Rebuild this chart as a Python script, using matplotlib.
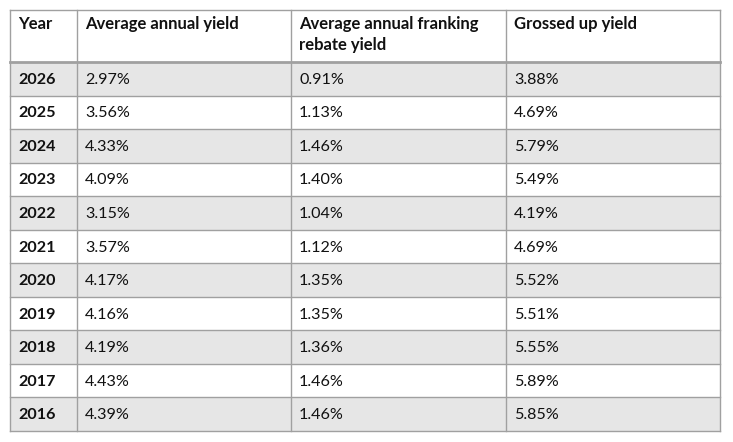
import matplotlib.pyplot as plt
from matplotlib.patches import Rectangle

years = ["2026", "2025", "2024", "2023", "2022", "2021", "2020", "2019", "2018", "2017", "2016"]
annual_yield = ["2.97%", "3.56%", "4.33%", "4.09%", "3.15%", "3.57%", "4.17%", "4.16%", "4.19%", "4.43%", "4.39%"]
franking_yield = ["0.91%", "1.13%", "1.46%", "1.40%", "1.04%", "1.12%", "1.35%", "1.35%", "1.36%", "1.46%", "1.46%"]
grossed_yield = ["3.88%", "4.69%", "5.79%", "5.49%", "4.19%", "4.69%", "5.52%", "5.51%", "5.55%", "5.89%", "5.85%"]
headers = ["Year", "Average annual yield", "Average annual franking\nrebate yield", "Grossed up yield"]

W, H = 733, 442
col_edges = [10, 77, 291, 506, 720]
top, header_bottom, bottom = 10, 62, 431
line_color = "#a0a0a0"
shade = "#e6e6e6"
font = ["Lato", "DejaVu Sans"]
fs_body = 11.6
fs_head = 12.0

fig = plt.figure(figsize=(W / 100, H / 100), dpi=100)
ax = fig.add_axes([0, 0, 1, 1])
ax.set_xlim(0, W)
ax.set_ylim(H, 0)
ax.axis("off")

columns = [years, annual_yield, franking_yield, grossed_yield]
n = len(years)
row_h = (bottom - header_bottom) / n

for i in range(n):
    y0 = header_bottom + i * row_h
    if i % 2 == 0:
        ax.add_patch(Rectangle((col_edges[0], y0), col_edges[-1] - col_edges[0], row_h,
                               facecolor=shade, edgecolor="none", zorder=1))
    for j, col in enumerate(columns):
        ax.text(col_edges[j] + 8, y0 + row_h / 2 + 1, col[i], ha="left", va="center",
                fontsize=fs_body, family=font, color="#111111",
                fontweight="bold" if j == 0 else "normal", zorder=3)

for j, h in enumerate(headers):
    ax.text(col_edges[j] + 8, top + 6, h, ha="left", va="top", fontsize=fs_head,
            family=font, fontweight="bold", color="#111111", linespacing=1.35, zorder=3)

# grid lines
for x in col_edges:
    ax.plot([x, x], [top, bottom], color=line_color, lw=1.0, zorder=2)
ax.plot([col_edges[0], col_edges[-1]], [top, top], color=line_color, lw=1.0, zorder=2)
ax.plot([col_edges[0], col_edges[-1]], [header_bottom, header_bottom], color=line_color, lw=2.0, zorder=2)
for i in range(1, n + 1):
    y = header_bottom + i * row_h
    ax.plot([col_edges[0], col_edges[-1]], [y, y], color=line_color, lw=1.0, zorder=2)

fig.savefig("out.png", dpi=100)
